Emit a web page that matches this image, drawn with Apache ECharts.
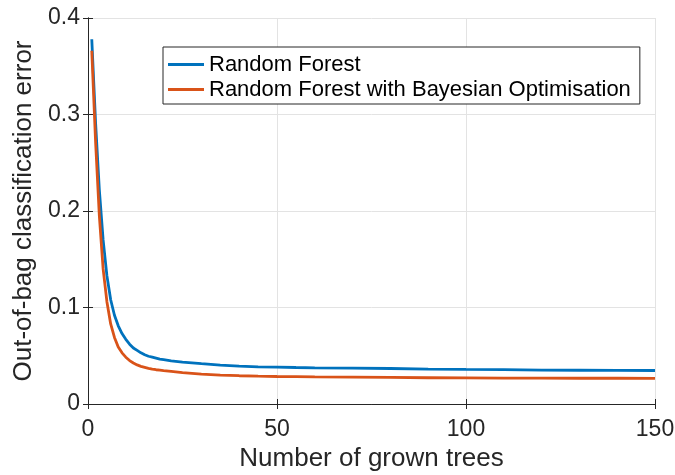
<!DOCTYPE html>
<html>
<head>
<meta charset="utf-8">
<title>Out-of-bag classification error</title>
<script src="https://cdn.jsdelivr.net/npm/echarts@6/dist/echarts.min.js"></script>
<style>
  html, body { margin: 0; padding: 0; background: #ffffff; }
  #chart { width: 675px; height: 475px; }
</style>
</head>
<body>
<div id="chart"></div>
<script>
// Number of grown trees at which the error was sampled
const trees = [1, 2, 3, 4, 5, 6, 7, 8, 9, 10, 11, 12, 13, 14, 15, 16, 17, 18, 19, 20,
  22, 25, 30, 35, 40, 45, 50, 55, 60, 70, 80, 90, 100, 110, 120, 130, 140, 150];

// Out-of-bag classification error, plain random forest
const rfError = [0.378, 0.292, 0.222, 0.170, 0.133, 0.108, 0.092, 0.081, 0.073, 0.067,
  0.062, 0.058, 0.0555, 0.053, 0.051, 0.0495, 0.0485, 0.0475, 0.0465, 0.046,
  0.0448, 0.0435, 0.0418, 0.0403, 0.0392, 0.0385, 0.0382, 0.0378, 0.0375, 0.0372,
  0.0368, 0.0362, 0.0358, 0.0356, 0.0352, 0.0350, 0.0348, 0.0347];

// Out-of-bag classification error, random forest tuned by Bayesian optimisation
const rfBoError = [0.366, 0.272, 0.195, 0.140, 0.106, 0.083, 0.069, 0.059, 0.053, 0.0485,
  0.045, 0.0425, 0.0405, 0.039, 0.038, 0.037, 0.0362, 0.0355, 0.035, 0.0345,
  0.0337, 0.0325, 0.031, 0.0300, 0.0293, 0.0288, 0.0285, 0.0283, 0.0281, 0.0278,
  0.0275, 0.0272, 0.0270, 0.0268, 0.0268, 0.0267, 0.0267, 0.0266];

const seriesNames = ['Random Forest', 'Random Forest with Bayesian Optimisation'];
const xTicks = [0, 50, 100, 150];
const yTicks = [0, 0.1, 0.2, 0.3, 0.4];

const FONT = '"Liberation Sans", Arial, Helvetica, sans-serif';
const INK = '#262626';
const GRID = '#e3e3e3';

const pairs = (ys) => trees.map((t, i) => [t, ys[i]]);

const xBase = {
  type: 'value',
  min: xTicks[0],
  max: xTicks[xTicks.length - 1],
  interval: xTicks[1] - xTicks[0],
  axisLine: { show: true, lineStyle: { color: INK, width: 1 } },
  axisTick: { show: true, inside: true, length: 5, lineStyle: { color: INK } }
};
const yBase = {
  type: 'value',
  min: yTicks[0],
  max: yTicks[yTicks.length - 1],
  interval: yTicks[1] - yTicks[0],
  axisLine: { show: true, lineStyle: { color: INK, width: 1 } },
  axisTick: { show: true, inside: true, length: 5, lineStyle: { color: INK } }
};

const chart = echarts.init(document.getElementById('chart'), null, { renderer: 'canvas' });
chart.setOption({
  animation: false,
  backgroundColor: '#ffffff',
  textStyle: { fontFamily: FONT, color: INK },
  grid: { left: 88, right: 20, top: 18, bottom: 71, containLabel: false, outerBoundsMode: 'none' },
  legend: {
    orient: 'vertical',
    left: 163,
    top: 47,
    data: seriesNames,
    icon: 'rect',
    itemWidth: 36,
    itemHeight: 3,
    itemGap: 0,
    padding: [5, 9, 2, 5],
    borderColor: INK,
    borderWidth: 1,
    backgroundColor: '#ffffff',
    textStyle: { fontFamily: FONT, fontSize: 22, color: '#000000', lineHeight: 25 }
  },
  xAxis: [
    Object.assign({}, xBase, {
      position: 'bottom',
      name: 'Number of grown trees',
      nameLocation: 'middle',
      nameGap: 37,
      nameTextStyle: { fontFamily: FONT, fontSize: 26, color: INK },
      axisLabel: { fontFamily: FONT, fontSize: 23, color: INK, margin: 14 },
      splitLine: { show: true, lineStyle: { color: GRID, width: 1 } }
    }),
    Object.assign({}, xBase, {
      position: 'top',
      axisLabel: { show: false },
      splitLine: { show: false }
    })
  ],
  yAxis: [
    Object.assign({}, yBase, {
      position: 'left',
      name: 'Out-of-bag classification error',
      nameLocation: 'middle',
      nameGap: 48,
      nameTextStyle: { fontFamily: FONT, fontSize: 26, color: INK },
      axisLabel: { fontFamily: FONT, fontSize: 23, color: INK, margin: 8 },
      splitLine: { show: true, lineStyle: { color: GRID, width: 1 } }
    }),
    Object.assign({}, yBase, {
      position: 'right',
      axisLabel: { show: false },
      splitLine: { show: false }
    })
  ],
  series: [
    {
      name: seriesNames[0],
      type: 'line',
      data: pairs(rfError),
      showSymbol: false,
      smooth: false,
      lineStyle: { color: '#0072BD', width: 2.8 },
      itemStyle: { color: '#0072BD' }
    },
    {
      name: seriesNames[1],
      type: 'line',
      data: pairs(rfBoError),
      showSymbol: false,
      smooth: false,
      lineStyle: { color: '#D95319', width: 2.8 },
      itemStyle: { color: '#D95319' }
    }
  ]
});
</script>
</body>
</html>
